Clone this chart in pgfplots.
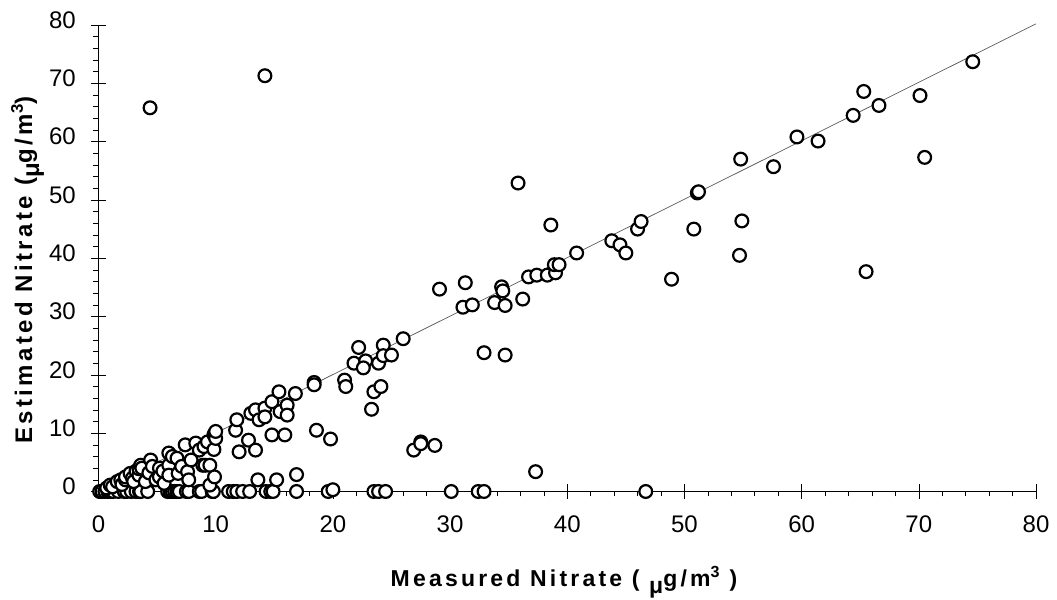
\documentclass[border=0pt]{standalone}
\usepackage{fontspec}
\setmainfont{Liberation Sans}
\newfontfamily\labelfont[LetterSpace=14]{Liberation Sans}
\usepackage{pgfplots}
\pgfplotsset{compat=1.18}
\begin{document}
\fontsize{24}{28}\selectfont
\begin{tikzpicture}
\begin{axis}[
 scale only axis, width=937.5pt, height=466.5pt,
 xmin=0,xmax=80,ymin=0,ymax=80,
 axis lines=left, axis line style={-, black, line width=0.8pt},
 xtick={0,10,...,80}, ytick={0,10,...,80},
 minor tick num=4,
 tick align=center, major tick length=15pt, minor tick length=5pt,
 tick style={black, line width=0.6pt},
 every minor x tick/.append style={yshift=-2.5pt},
 every minor y tick/.append style={xshift=-2.5pt},
 clip=false,
 /pgf/number format/assume math mode=true,
 ticklabel style={font=\fontsize{24}{28}\selectfont},
 xticklabel style={yshift=-9pt},
 yticklabel style={xshift=-7pt, yshift=5pt},
 xlabel={\labelfont\bfseries Measured Nitrate ( \raisebox{-0.3em}{μ}g/m\textsuperscript{3} )},
 ylabel={\labelfont\bfseries Estimated Nitrate (\raisebox{-0.3em}{μ}g/m\textsuperscript{3})},
 xlabel style={at={(axis description cs:0.4965,-0.2047)}, anchor=base, font=\fontsize{23}{26}\selectfont},
 ylabel style={at={(axis description cs:-0.0709,0.475)}, anchor=base, font=\fontsize{24}{27}\selectfont},
]
\coordinate (SW) at (rel axis cs:0,0);
\coordinate (NE) at (rel axis cs:1,1);
\addplot[gray!70!black, line width=0.7pt] coordinates {(0,0) (80,80.2)};
\addplot[only marks, mark=*, mark size=6.4pt, mark options={line width=2.2pt, draw=black, fill=white}] table {
x y
0.1 0
0.3 0
0.55 0
0.8 0
1.0 0
1.25 0
1.7 0
2.2 0
2.4 0
2.8 0
3.2 0
3.5 0
3.6 0
4.2 0
5.9 0
6.1 0
6.3 0
6.5 0
6.7 0
6.9 0
7.5 0
7.7 0
8.6 0
8.8 0
9.7 0
9.8 0
11.1 0
11.5 0
11.8 0
12.3 0
12.9 0
14.3 0
14.7 0
14.9 0
16.9 0
19.6 0
20.0 0.3
23.5 0
23.9 0
24.5 0
30.1 0
32.4 0
32.9 0
46.7 0
0.7 0.6
1.0 1.1
1.2 0.8
1.6 1.7
1.9 2.0
2.0 1.2
2.3 2.0
2.3 2.5
2.7 3.1
2.9 2.3
3.0 1.7
3.2 3.5
3.45 2.8
3.45 3.9
3.6 4.5
3.7 4.0
4.0 1.7
4.3 3.2
4.45 5.4
4.6 4.3
4.9 2.0
5.2 4.0
5.2 2.5
5.5 3.5
5.6 1.4
6.0 6.6
6.0 4.5
6.0 2.8
6.3 6.0
6.7 5.7
6.8 3.1
7.1 4.3
7.4 8.0
7.6 3.4
7.7 2.0
7.9 5.4
8.3 8.3
8.6 7.1
8.9 4.5
9.0 7.7
9.1 4.5
9.3 8.5
9.5 4.5
9.5 1.1
9.85 7.2
9.9 2.5
9.85 9.7
9.9 9.9
10.0 9.1
10.0 10.3
11.7 10.5
11.8 12.3
12.0 6.8
12.8 8.8
13.4 7.1
13.0 13.4
13.4 14.0
13.7 12.3
14.2 14.3
14.2 12.8
14.8 15.4
15.4 17.1
15.5 13.7
16.1 14.8
16.1 13.1
16.8 16.8
13.6 2.0
15.2 2.0
16.9 2.9
14.8 9.7
15.9 9.7
18.6 10.5
19.8 9.0
18.4 18.7
18.4 18.3
21.0 19.1
21.1 18.0
22.2 24.7
21.8 22.0
22.8 22.4
22.6 21.2
23.9 22.0
24.3 25.1
24.3 23.3
25.0 23.4
23.3 14.1
23.5 17.1
24.1 18.0
26.0 26.2
26.9 7.1
27.5 8.5
27.5 8.2
28.7 7.9
29.1 34.7
31.3 35.8
31.1 31.6
31.9 32.0
34.4 35.1
34.5 34.4
33.8 32.4
34.7 31.9
36.2 33.0
36.7 36.8
37.4 37.1
38.3 37.1
39.0 37.5
38.9 38.9
39.3 38.9
32.9 23.8
34.7 23.4
37.3 3.4
35.8 52.9
38.6 45.7
40.8 40.9
43.8 43.0
44.5 42.3
45.0 40.9
46.0 45.0
46.3 46.3
48.9 36.4
50.8 45.0
51.1 51.2
51.2 51.4
54.8 57.0
54.9 46.4
54.7 40.5
57.6 55.7
59.6 60.8
61.4 60.1
64.4 64.5
65.3 68.6
66.6 66.2
70.1 67.9
70.5 57.3
65.5 37.7
74.6 73.7
4.4 65.8
14.2 71.3
};
\end{axis}
\pgfresetboundingbox
\path ([shift={(-98.5pt,-108.5pt)}]SW) rectangle ([shift={(21pt,25pt)}]NE);
\end{tikzpicture}
\end{document}
